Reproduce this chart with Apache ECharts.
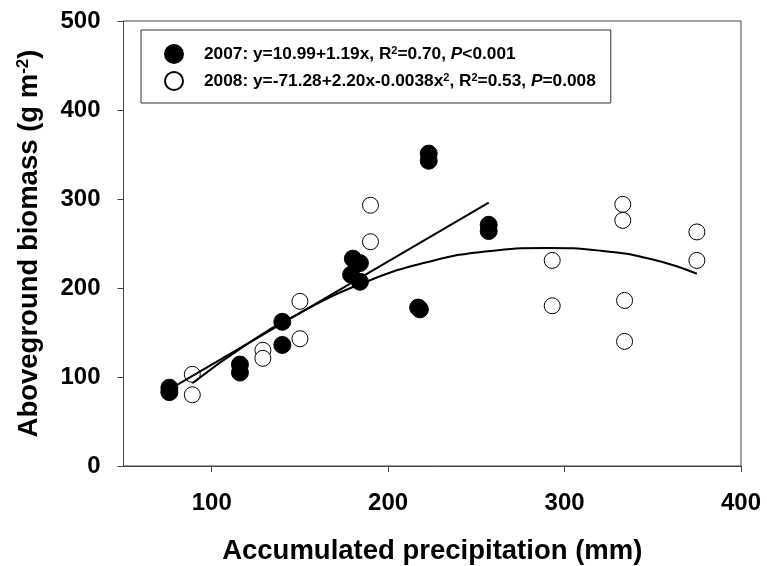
<!DOCTYPE html>
<html>
<head>
<meta charset="utf-8">
<script src="https://cdn.jsdelivr.net/npm/echarts@6/dist/echarts.min.js"></script>
<style>
html,body{margin:0;padding:0;background:#fff;}
#chart{width:767px;height:566px;}
</style>
</head>
<body>
<div id="chart"></div>
<script>
// ---- data ----
const xTicks = [100, 200, 300, 400];
const yTicks = [0, 100, 200, 300, 400, 500];

const precip2007  = [76, 76, 116, 116, 140, 140, 180, 184, 179, 184, 217, 218, 223, 223, 257, 257];
const biomass2007 = [88, 83, 114, 105, 162, 136, 233, 228, 215, 207, 178, 176, 351, 343, 271, 264];

const precip2008  = [89, 89, 129, 129, 150, 150, 190, 190, 293, 293, 333, 333, 334, 334, 375, 375];
const biomass2008 = [103, 80, 130, 121, 185, 143, 293, 252, 231, 180, 294, 276, 186, 140, 263, 231];

// fitted lines as drawn
const fit2007X = [76, 257];
const fit2007Y = [86, 296];
const fit2008X = [89, 120, 150, 185, 220, 255, 290, 320, 350, 375];
const fit2008Y = [93, 137, 172, 205, 228, 241, 245, 242, 232, 216];

const legendLabels = {
  '2007': '{b|2007: y=10.99+1.19x, R}{sup|2}{b|=0.70, }{i|P}{b|<0.001}',
  '2008': '{b|2008: y=-71.28+2.20x-0.0038x}{sup|2}{b|, R}{sup|2}{b|=0.53, }{i|P}{b|=0.008}'
};

const zip = (a, b) => a.map((v, i) => [v, b[i]]);
const FONT = 'Liberation Sans';

const chart = echarts.init(document.getElementById('chart'));
chart.setOption({
  animation: false,
  backgroundColor: '#fff',
  grid: {
    left: 123.5, right: 26, top: 21, bottom: 100,
    containLabel: false,
    outerBoundsMode: 'none',
    show: true, borderColor: '#444', borderWidth: 1, backgroundColor: 'transparent'
  },
  legend: {
    data: ['2007', '2008'],
    orient: 'vertical',
    left: 141, top: 30,
    padding: [14, 15, 12, 23],
    itemGap: 7,
    itemWidth: 50,
    itemHeight: 18,
    borderColor: '#333',
    borderWidth: 1,
    borderRadius: 0,
    selectedMode: false,
    formatter: name => legendLabels[name],
    textStyle: {
      fontFamily: FONT,
      rich: {
        b: { fontSize: 17.3, fontWeight: 'bold', fontFamily: FONT, color: '#000', lineHeight: 18 },
        i: { fontSize: 17.3, fontWeight: 'bold', fontStyle: 'italic', fontFamily: FONT, color: '#000', lineHeight: 18 },
        sup: { fontSize: 11, fontWeight: 'bold', fontFamily: FONT, color: '#000', lineHeight: 10, verticalAlign: 'top' }
      }
    }
  },
  xAxis: {
    type: 'value',
    min: 50, max: 400,
    name: 'Accumulated precipitation (mm)',
    nameLocation: 'middle',
    nameGap: 71,
    nameTextStyle: { fontFamily: FONT, fontSize: 27.5, fontWeight: 'bold', color: '#000' },
    axisLine: { show: true, onZero: false, lineStyle: { color: '#444', width: 1 } },
    axisTick: { show: true, inside: false, length: 6, customValues: xTicks, lineStyle: { color: '#444', width: 1 } },
    axisLabel: { customValues: xTicks, margin: 25, fontFamily: FONT, fontSize: 24, fontWeight: 'bold', color: '#000' },
    splitLine: { show: false }
  },
  yAxis: {
    type: 'value',
    min: 0, max: 500, interval: 100,
    name: '{b|Aboveground biomass (g m}{sup|-2}{b|)}',
    nameLocation: 'middle',
    nameGap: 79,
    nameTextStyle: {
      rich: {
        b: { fontFamily: FONT, fontSize: 27.5, fontWeight: 'bold', color: '#000', lineHeight: 30 },
        sup: { fontFamily: FONT, fontSize: 17, fontWeight: 'bold', color: '#000', lineHeight: 15, verticalAlign: 'top' }
      }
    },
    axisLine: { show: true, onZero: false, lineStyle: { color: '#444', width: 1 } },
    axisTick: { show: true, inside: false, length: 6, lineStyle: { color: '#444', width: 1 } },
    axisLabel: { margin: 23, fontFamily: FONT, fontSize: 24, fontWeight: 'bold', color: '#000' },
    splitLine: { show: false }
  },
  series: [
    {
      name: '2007', type: 'scatter',
      data: zip(precip2007, biomass2007),
      symbol: 'circle', symbolSize: 17,
      itemStyle: { color: '#000', borderColor: '#000', borderWidth: 1, opacity: 1 },
      z: 2
    },
    {
      name: '2008', type: 'scatter',
      data: zip(precip2008, biomass2008),
      symbol: 'circle', symbolSize: 16,
      itemStyle: { color: '#fff', borderColor: '#000', borderWidth: 1, opacity: 1 },
      z: 3
    },
    {
      name: 'fit2007', type: 'line',
      data: zip(fit2007X, fit2007Y),
      showSymbol: false, symbol: 'none',
      lineStyle: { color: '#000', width: 2 },
      z: 4
    },
    {
      name: 'fit2008', type: 'line',
      data: zip(fit2008X, fit2008Y),
      smooth: true,
      showSymbol: false, symbol: 'none',
      lineStyle: { color: '#000', width: 2 },
      z: 4
    }
  ]
});
</script>
</body>
</html>
